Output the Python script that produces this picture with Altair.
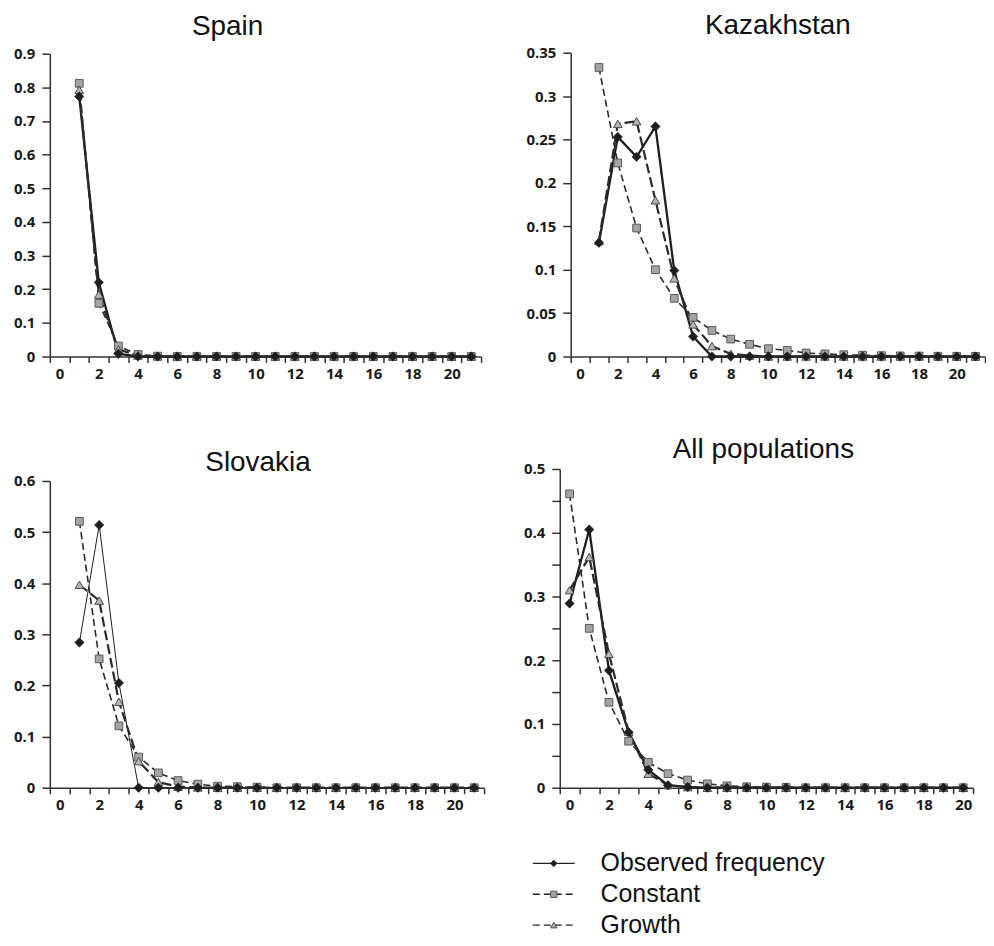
import altair as alt
import pandas as pd

SERIES = ["Observed frequency", "Constant", "Growth"]

# categories on the x axis
CATS_21 = [0, 1, 2, 3, 4, 5, 6, 7, 8, 9, 10, 11, 12, 13, 14, 15, 16, 17, 18, 19, 20, 21]
CATS_20 = [0, 1, 2, 3, 4, 5, 6, 7, 8, 9, 10, 11, 12, 13, 14, 15, 16, 17, 18, 19, 20]

K_1_21 = [1, 2, 3, 4, 5, 6, 7, 8, 9, 10, 11, 12, 13, 14, 15, 16, 17, 18, 19, 20, 21]
K_0_20 = [0, 1, 2, 3, 4, 5, 6, 7, 8, 9, 10, 11, 12, 13, 14, 15, 16, 17, 18, 19, 20]

# Spain
spain_obs = [0.773, 0.220, 0.008, 0, 0, 0, 0, 0, 0, 0, 0, 0, 0, 0, 0, 0, 0, 0, 0, 0, 0]
spain_const = [0.812, 0.158, 0.031, 0.006, 0.001, 0, 0, 0, 0, 0, 0, 0, 0, 0, 0, 0, 0, 0, 0, 0, 0]
spain_growth = [0.793, 0.184, 0.021, 0.003, 0.0005, 0, 0, 0, 0, 0, 0, 0, 0, 0, 0, 0, 0, 0, 0, 0, 0]

# Kazakhstan
kaz_obs = [0.131, 0.253, 0.230, 0.265, 0.099, 0.023, 0.0, 0, 0, 0, 0, 0, 0, 0, 0, 0, 0, 0, 0, 0, 0]
kaz_const = [0.333, 0.223, 0.148, 0.100, 0.067, 0.045, 0.030, 0.020, 0.014, 0.009, 0.007,
             0.004, 0.003, 0.002, 0.0015, 0.001, 0.0007, 0.0005, 0.0003, 0.0002, 0.0001]
kaz_growth = [0.133, 0.268, 0.271, 0.180, 0.090, 0.037, 0.012, 0.003, 0.001, 0, 0, 0, 0, 0, 0, 0, 0, 0, 0, 0, 0]

# Slovakia
slo_obs = [0.284, 0.514, 0.205, 0.0, 0.0, 0, 0, 0, 0, 0, 0, 0, 0, 0, 0, 0, 0, 0, 0, 0, 0]
slo_const = [0.521, 0.252, 0.121, 0.060, 0.029, 0.014, 0.007, 0.003, 0.002, 0.001, 0, 0, 0, 0, 0, 0, 0, 0, 0, 0, 0]
slo_growth = [0.397, 0.366, 0.168, 0.052, 0.011, 0.002, 0.0005, 0, 0, 0, 0, 0, 0, 0, 0, 0, 0, 0, 0, 0, 0]

# All populations
all_obs = [0.289, 0.405, 0.184, 0.087, 0.028, 0.004, 0.001, 0, 0, 0, 0, 0, 0, 0, 0, 0, 0, 0, 0, 0, 0]
all_const = [0.461, 0.250, 0.134, 0.073, 0.040, 0.022, 0.012, 0.006, 0.003, 0.0015, 0.001,
             0.0005, 0, 0, 0, 0, 0, 0, 0, 0, 0]
all_growth = [0.310, 0.362, 0.210, 0.088, 0.022, 0.004, 0.001, 0, 0, 0, 0, 0, 0, 0, 0, 0, 0, 0, 0, 0, 0]

# y tick values
Y_SPAIN = [0, 0.1, 0.2, 0.3, 0.4, 0.5, 0.6, 0.7, 0.8, 0.9]
Y_KAZ = [0, 0.05, 0.1, 0.15, 0.2, 0.25, 0.3, 0.35]
Y_SLO = [0, 0.1, 0.2, 0.3, 0.4, 0.5, 0.6]
Y_ALL = [0, 0.05, 0.1, 0.15, 0.2, 0.25, 0.3, 0.35, 0.4, 0.45, 0.5]

LABEL_FONT = "Open Sans"
TITLE_FONT = "Liberation Sans"
INK = "#1e1e1e"


def panel(title, ks, obs, const, growth, cats, ymax, yvals, width, height,
          obs_width=2.3, title_dx=0, title_dy=0, y_top=0, label_every_tenth=False):
    df = pd.DataFrame({
        "k": ks * 3,
        "value": obs + const + growth,
        "series": [SERIES[0]] * len(ks) + [SERIES[1]] * len(ks) + [SERIES[2]] * len(ks),
    })
    if label_every_tenth:
        ylab = "round(datum.value*100) % 10 == 0 ? format(datum.value, '~g') : ''"
    else:
        ylab = "format(datum.value, '~g')"
    x = alt.X("k:O",
              scale=alt.Scale(type="band", domain=cats, paddingInner=0, paddingOuter=0),
              bandPosition=0.5,
              axis=alt.Axis(title=None, tickBand="extent", labelAngle=0, labelOverlap=False,
                            labelExpr="datum.value % 2 == 0 ? datum.label : ''",
                            tickSize=6, labelPadding=4))
    y = alt.Y("value:Q",
              scale=alt.Scale(domain=[0, ymax], nice=False, zero=True, range=[height, y_top]),
              axis=alt.Axis(title=None, values=yvals, labelExpr=ylab, tickSize=8,
                            labelPadding=7, grid=False))
    base = alt.Chart(df).encode(x=x, y=y)

    def sel(name):
        return base.transform_filter(alt.datum.series == name)

    obs_line = sel(SERIES[0]).mark_line(color=INK, strokeWidth=obs_width)
    const_line = sel(SERIES[1]).mark_line(color="#2a2a2a", strokeWidth=1.6, strokeDash=[7, 4])
    growth_line = sel(SERIES[2]).mark_line(color="#2a2a2a", strokeWidth=2.2, strokeDash=[10, 4])
    const_pt = sel(SERIES[1]).mark_point(shape="square", filled=True, size=60, fill="#a3a3a3",
                                          stroke="#5a5a5a", strokeWidth=1, opacity=1)
    growth_pt = sel(SERIES[2]).mark_point(shape="triangle-up", filled=True, size=75, fill="#b5b5b5",
                                           stroke="#4a4a4a", strokeWidth=1, opacity=1)
    obs_pt = sel(SERIES[0]).mark_point(shape="diamond", filled=True, size=90, fill=INK,
                                        stroke=INK, strokeWidth=0.5, opacity=1)
    return alt.layer(obs_line, const_line, growth_line, const_pt, growth_pt, obs_pt).properties(
        width=width, height=height,
        title=alt.TitleParams(title, fontSize=28, font=TITLE_FONT, fontWeight="normal",
                              color="#111111", offset=6, dx=title_dx, dy=title_dy,
                              anchor="middle"))


spain = panel("Spain", K_1_21, spain_obs, spain_const, spain_growth, CATS_21, 0.9, Y_SPAIN,
              433, 305, title_dx=-38, y_top=1)
kaz = panel("Kazakhstan", K_1_21, kaz_obs, kaz_const, kaz_growth, CATS_21, 0.35, Y_KAZ,
            416, 305)
slo = panel("Slovakia", K_1_21, slo_obs, slo_const, slo_growth, CATS_21, 0.6, Y_SLO,
            436, 320, obs_width=1.0, title_dx=-9, title_dy=14, y_top=12)
allp = panel("All populations", K_0_20, all_obs, all_const, all_growth, CATS_20, 0.5, Y_ALL,
             415, 320, title_dx=-3, title_dy=8, label_every_tenth=True)

# legend drawn as its own small chart
leg_df = pd.DataFrame({"name": SERIES})
lbase = alt.Chart(leg_df).encode(
    y=alt.Y("name:N", sort=SERIES, axis=None, scale=alt.Scale(type="point", padding=0)))
leg_rule = lbase.mark_rule(color="#222222", strokeWidth=1.4).encode(
    x=alt.value(485), x2=alt.value(527),
    strokeDash=alt.StrokeDash("name:N", legend=None,
                              scale=alt.Scale(domain=SERIES, range=[[1, 0], [7, 4], [7, 4]])))
leg_pt = lbase.mark_point(filled=True, size=40, strokeWidth=1, opacity=1).encode(
    x=alt.value(506),
    shape=alt.Shape("name:N", legend=None,
                    scale=alt.Scale(domain=SERIES, range=["diamond", "square", "triangle-up"])),
    fill=alt.Fill("name:N", legend=None,
                  scale=alt.Scale(domain=SERIES, range=[INK, "#a3a3a3", "#b5b5b5"])),
    stroke=alt.Stroke("name:N", legend=None,
                      scale=alt.Scale(domain=SERIES, range=[INK, "#5a5a5a", "#4a4a4a"])))
leg_text = lbase.mark_text(align="left", baseline="middle", fontSize=25, font=TITLE_FONT,
                           color="#111111").encode(x=alt.value(553), text="name:N")
legend = alt.layer(leg_rule, leg_pt, leg_text).properties(width=820, height=62)

row1 = alt.hconcat(spain, kaz, spacing=43)
row2 = alt.hconcat(slo, allp, spacing=38)
panels = alt.vconcat(row1, row2, spacing=55)

chart = alt.vconcat(panels, legend, spacing=39).properties(
    padding={"left": 5, "top": 2, "right": 0, "bottom": 0}
).configure(
    background="white",
    view=alt.ViewConfig(stroke=None),
    axis=alt.AxisConfig(domainColor="#333333", domainWidth=1.5, tickColor="#333333",
                        tickWidth=1.5, labelFont=LABEL_FONT, labelFontWeight="bold",
                        labelFontSize=15, labelColor="#1a1a1a"),
)

chart.save("out.html", embed_options={"renderer": "svg", "actions": False})
